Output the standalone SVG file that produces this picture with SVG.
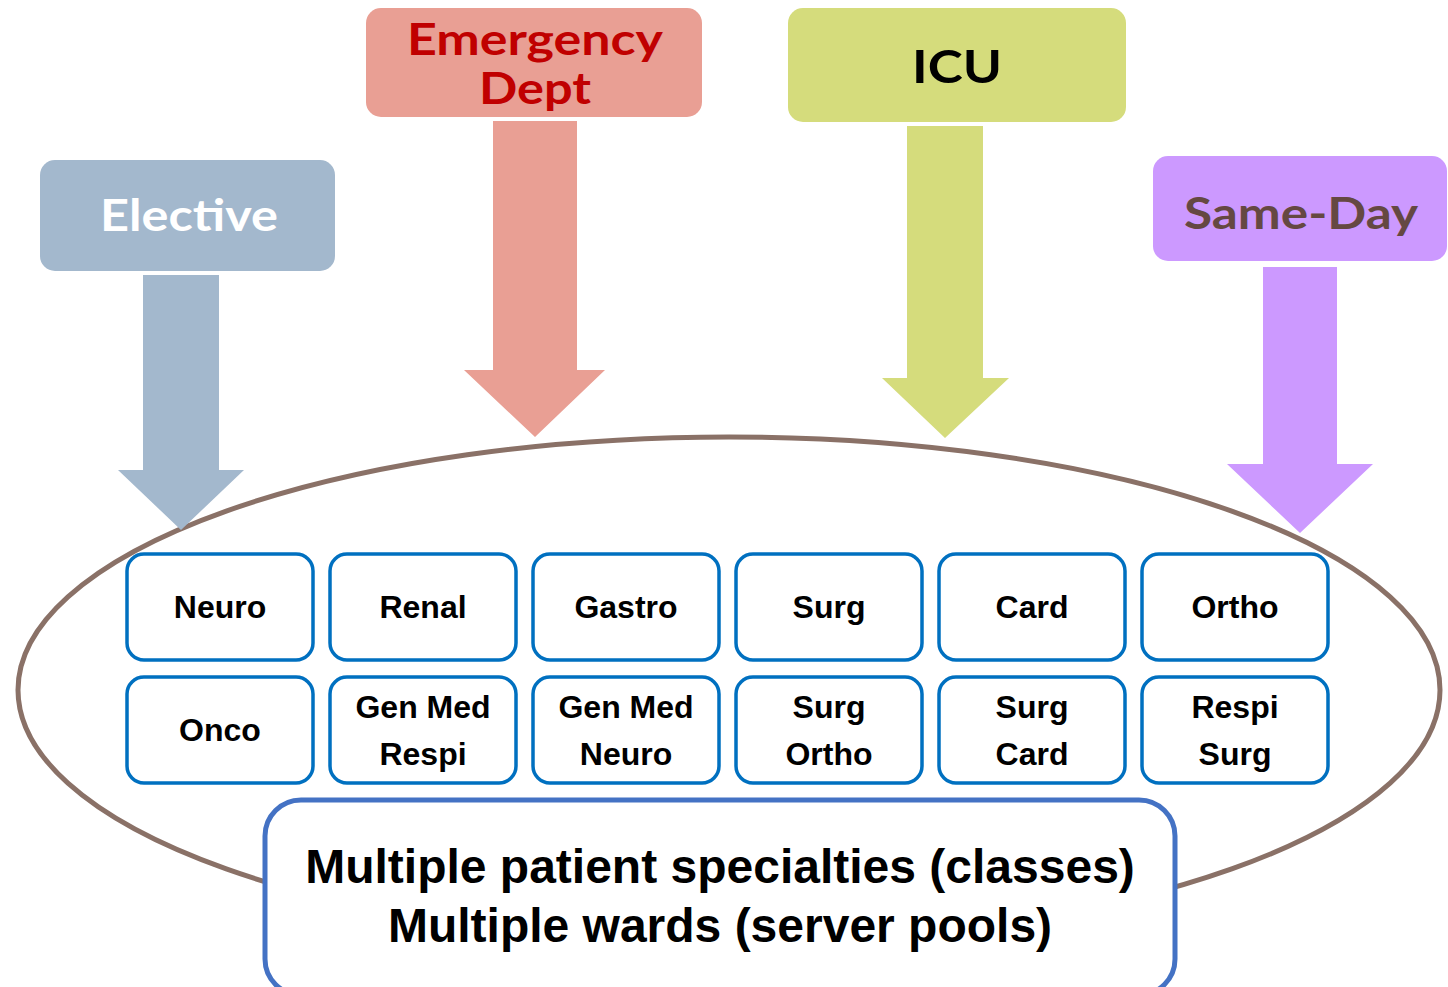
<svg xmlns="http://www.w3.org/2000/svg" width="1448" height="987" viewBox="0 0 1448 987">
  <style>
    .src { font-family: Lato, "Open Sans", "DejaVu Sans", sans-serif; font-weight: bold; text-anchor: middle; }
    .ward rect { fill: #ffffff; stroke: #0070c0; stroke-width: 3.5; }
    .ward text { font-family: "Liberation Sans", Arial, sans-serif; font-weight: bold; font-size: 32px; text-anchor: middle; fill: #000; }
    .note text { font-family: "Liberation Sans", Arial, sans-serif; font-weight: bold; font-size: 48px; text-anchor: middle; fill: #000; }
  </style>
  <rect width="1448" height="987" fill="#ffffff"/>

  <!-- admission sources -->
  <g id="elective">
    <rect x="40" y="160" width="295" height="111" rx="15" fill="#a3b8cd"/>
    <text class="src" x="189" y="231" font-size="44" fill="#ffffff" textLength="178" lengthAdjust="spacingAndGlyphs">Elective</text>
  </g>
  <g id="emergency">
    <rect x="366" y="8" width="336" height="109" rx="15" fill="#e99f94"/>
    <text class="src" x="535" y="55" font-size="44" fill="#c00000" textLength="256" lengthAdjust="spacingAndGlyphs">Emergency</text>
    <text class="src" x="535" y="104" font-size="44" fill="#c00000" textLength="112" lengthAdjust="spacingAndGlyphs">Dept</text>
  </g>
  <g id="icu">
    <rect x="788" y="8" width="338" height="114" rx="15" fill="#d5dc7c"/>
    <text class="src" x="957" y="83" font-size="46" fill="#000000" textLength="90" lengthAdjust="spacingAndGlyphs">ICU</text>
  </g>
  <g id="sameday">
    <rect x="1153" y="156" width="294" height="105" rx="15" fill="#cc99ff"/>
    <text class="src" x="1301" y="229" font-size="44" fill="#654842" textLength="234" lengthAdjust="spacingAndGlyphs">Same-Day</text>
  </g>

  <!-- flow arrows and the hospital boundary -->
  <g id="connectors">
    <ellipse cx="729" cy="690" rx="711" ry="253" fill="none" stroke="#8a7167" stroke-width="5"/>
    <polygon points="143,275 219,275 219,470 244,470 181,530 118,470 143,470" fill="#a3b8cd"/>
    <polygon points="493,121 577,121 577,370 605,370 535,437 464,370 493,370" fill="#e99f94"/>
    <polygon points="907,126 983,126 983,378 1009,378 945,438 882,378 907,378" fill="#d5dc7c"/>
    <polygon points="1263,267 1337,267 1337,464 1373,464 1300,533 1227,464 1263,464" fill="#cc99ff"/>
  </g>

  <!-- wards, top row -->
  <g id="w-neuro" class="ward"><rect x="127" y="554" width="186" height="106" rx="17"/><text x="220" y="618">Neuro</text></g>
  <g id="w-renal" class="ward"><rect x="330" y="554" width="186" height="106" rx="17"/><text x="423" y="618">Renal</text></g>
  <g id="w-gastro" class="ward"><rect x="533" y="554" width="186" height="106" rx="17"/><text x="626" y="618">Gastro</text></g>
  <g id="w-surg" class="ward"><rect x="736" y="554" width="186" height="106" rx="17"/><text x="829" y="618">Surg</text></g>
  <g id="w-card" class="ward"><rect x="939" y="554" width="186" height="106" rx="17"/><text x="1032" y="618">Card</text></g>
  <g id="w-ortho" class="ward"><rect x="1142" y="554" width="186" height="106" rx="17"/><text x="1235" y="618">Ortho</text></g>

  <!-- wards, bottom row -->
  <g id="w-onco" class="ward"><rect x="127" y="677" width="186" height="106" rx="17"/><text x="220" y="741">Onco</text></g>
  <g id="w-genmed-respi" class="ward"><rect x="330" y="677" width="186" height="106" rx="17"/><text x="423" y="718">Gen Med</text><text x="423" y="765">Respi</text></g>
  <g id="w-genmed-neuro" class="ward"><rect x="533" y="677" width="186" height="106" rx="17"/><text x="626" y="718">Gen Med</text><text x="626" y="765">Neuro</text></g>
  <g id="w-surg-ortho" class="ward"><rect x="736" y="677" width="186" height="106" rx="17"/><text x="829" y="718">Surg</text><text x="829" y="765">Ortho</text></g>
  <g id="w-surg-card" class="ward"><rect x="939" y="677" width="186" height="106" rx="17"/><text x="1032" y="718">Surg</text><text x="1032" y="765">Card</text></g>
  <g id="w-respi-surg" class="ward"><rect x="1142" y="677" width="186" height="106" rx="17"/><text x="1235" y="718">Respi</text><text x="1235" y="765">Surg</text></g>

  <!-- summary caption -->
  <g id="summary" class="note">
    <rect x="265" y="800" width="910" height="195" rx="36" fill="#ffffff" stroke="#4472c4" stroke-width="5"/>
    <text x="720" y="883">Multiple patient specialties (classes)</text>
    <text x="720" y="942">Multiple wards (server pools)</text>
  </g>
</svg>
